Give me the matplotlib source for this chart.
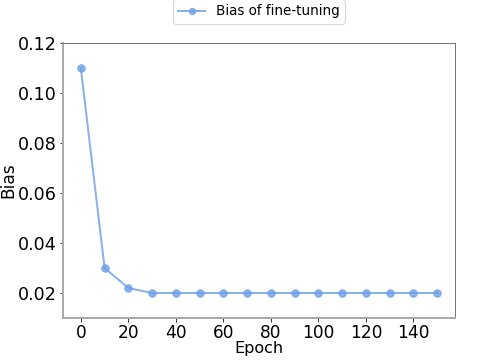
import matplotlib
matplotlib.use("Agg")
import matplotlib.pyplot as plt

epochs = [0, 10, 20, 30, 40, 50, 60, 70, 80, 90, 100, 110, 120, 130, 140, 150]
bias = [0.11, 0.03, 0.022, 0.02, 0.02, 0.02, 0.02, 0.02, 0.02, 0.02, 0.02, 0.02, 0.02, 0.02, 0.02, 0.02]
xticks = [0, 20, 40, 60, 80, 100, 120, 140]
yticks = [0.02, 0.04, 0.06, 0.08, 0.10, 0.12]

fig = plt.figure(figsize=(7, 5), dpi=72)
ax = fig.add_axes([63/504, 1 - 318/360, (455-63)/504, (318-43)/360])
ax.plot(epochs, bias, marker='o', color='#6d9eeb', alpha=0.8, linewidth=2,
        markersize=7.5, label='Bias of fine-tuning')
ax.set_ylim(0.01, 0.12)
ax.set_xticks(xticks)
ax.set_yticks(yticks)
ax.set_yticklabels([f"{v:.2f}" for v in yticks])
ax.tick_params(labelsize=17.5, pad=3)
ax.tick_params(axis='x', labelsize=17, pad=2)
ax.set_xlabel('Epoch', fontsize=16, labelpad=0)
ax.set_ylabel('Bias', fontsize=17, labelpad=0)
for s in ['left', 'bottom']:
    ax.spines[s].set_color('#aaaaaa')
    ax.spines[s].set_linewidth(2)
for s in ['top', 'right']:
    ax.spines[s].set_color('#555555')
    ax.spines[s].set_linewidth(0.8)
ax.legend(loc='upper center', bbox_to_anchor=(0.5, 1.16), fontsize=13.5, frameon=True,
          markerscale=0.85, borderaxespad=0)
fig.savefig('out.png', dpi=72)
